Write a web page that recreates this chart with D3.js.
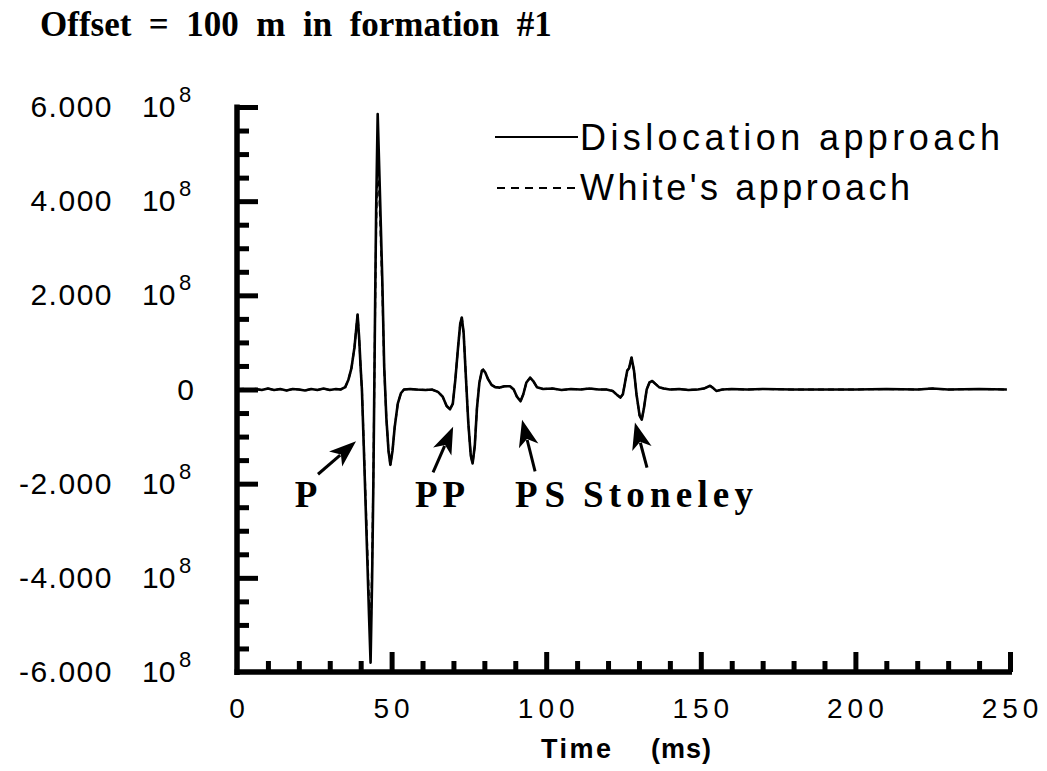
<!DOCTYPE html>
<html>
<head>
<meta charset="utf-8">
<script src="https://cdn.jsdelivr.net/npm/d3@7"></script>
<style>
  html, body { margin: 0; padding: 0; background: #fff; }
  svg { display: block; }
  .num { font-family: "Liberation Sans", Arial, Helvetica, sans-serif; fill: #000; }
  .serif { font-family: "Liberation Serif", "Times New Roman", serif; font-weight: bold; fill: #000; white-space: pre; }
</style>
</head>
<body>
<svg id="chart" width="1047" height="771"></svg>
<script>
// Time samples (ms)
const time = [
  0, 2, 4, 6, 8, 10, 12, 14, 16, 18,
  20, 22, 24, 26, 28, 30, 32, 33.5, 35, 36,
  37, 38, 39, 39.5, 40, 40.4, 41, 42, 42.7, 43.2,
  43.7, 44.1, 44.4, 44.7, 45, 45.5, 46.3, 47, 47.6, 48.3,
  49, 49.6, 50.3, 51, 52, 53, 54, 56, 58, 61,
  63, 65, 66.5, 67.8, 68.9, 69.8, 70.6, 71.5, 72.2, 72.7,
  73.3, 74, 74.8, 75.6, 76.2, 76.9, 77.6, 78.4, 79.2, 79.6,
  80.3, 81.2, 82.3, 83.5, 85, 86.5, 88.3, 89.5, 90.5, 91.7,
  92.6, 93.6, 94.8, 95.8, 97, 99, 102, 105, 108, 111,
  114, 117, 119.5, 121.5, 123, 124, 124.8, 125.5, 126.2, 126.8,
  127.6, 128.4, 129.2, 130.2, 130.9, 131.6, 132.5, 133.4, 134.3, 135.3,
  136.5, 138, 140, 143, 146, 149, 151, 153, 154, 155,
  157, 160, 165, 170, 180, 190, 200, 210, 220, 225,
  230, 240, 249
];

// Pressure, dislocation approach (units of 1e8)
const dislocation = [
  0, 0.01, -0.02, 0.01, -0.01, 0.02, -0.01, 0.01, -0.02, 0.01,
  0, -0.02, 0.01, -0.01, 0.02, -0.01, 0.01, 0, 0.05, 0.2,
  0.45, 0.9, 1.59, 1.1, 0.45, 0, -1.2, -3.3, -4.8, -5.8,
  -4.0, -2.0, 0, 2.0, 3.8, 5.85, 4.0, 2.3, 0.5, -0.6,
  -1.3, -1.6, -1.3, -0.8, -0.3, -0.08, 0, 0.01, 0, -0.01,
  0, -0.05, -0.15, -0.35, -0.42, -0.3, 0.2, 0.9, 1.4, 1.53,
  1.2, 0.3, -0.7, -1.4, -1.57, -1.2, -0.4, 0.15, 0.4, 0.42,
  0.36, 0.22, 0.1, 0.05, 0.04, 0.07, 0.07, 0, -0.15, -0.25,
  -0.1, 0.15, 0.25, 0.18, 0.05, 0.01, 0.02, -0.01, 0.01, 0,
  0.02, 0, 0, -0.03, -0.12, -0.17, -0.1, 0.15, 0.4, 0.45,
  0.68, 0.4, -0.1, -0.55, -0.64, -0.4, 0, 0.15, 0.18, 0.12,
  0.05, 0.02, 0, 0.01, -0.01, 0, 0.02, 0.08, 0.03, -0.03,
  0, 0.01, 0, 0.01, 0, 0, 0, 0.01, 0, 0.02,
  0, 0.01, 0
];

// Pressure, White's approach (units of 1e8)
const whites = [
  0, 0.01, -0.02, 0.01, -0.01, 0.02, -0.01, 0.01, -0.02, 0.01,
  0, -0.02, 0.01, -0.01, 0.02, -0.01, 0.01, 0, 0.05, 0.2,
  0.45, 0.9, 1.59, 1.1, 0.45, 0, -1.15, -3.1, -4.5, -5.3,
  -3.7, -1.8, 0, 1.8, 3.4, 5.1, 3.6, 2.1, 0.45, -0.6,
  -1.3, -1.6, -1.3, -0.8, -0.3, -0.08, 0, 0.01, 0, -0.01,
  0, -0.05, -0.15, -0.35, -0.42, -0.3, 0.2, 0.9, 1.4, 1.53,
  1.2, 0.3, -0.7, -1.4, -1.57, -1.2, -0.4, 0.15, 0.4, 0.42,
  0.36, 0.22, 0.1, 0.05, 0.04, 0.07, 0.07, 0, -0.15, -0.25,
  -0.1, 0.15, 0.25, 0.18, 0.05, 0.01, 0.02, -0.01, 0.01, 0,
  0.02, 0, 0, -0.03, -0.12, -0.17, -0.1, 0.15, 0.4, 0.45,
  0.68, 0.4, -0.1, -0.55, -0.64, -0.4, 0, 0.15, 0.18, 0.12,
  0.05, 0.02, 0, 0.01, -0.01, 0, 0.02, 0.08, 0.03, -0.03,
  0, 0.01, 0, 0.01, 0, 0, 0, 0.01, 0, 0.02,
  0, 0.01, 0
];

const scaleExp = 8;
const yMajor = [-6, -4, -2, 0, 2, 4, 6];
const yMajorLabels = ["-6.000", "-4.000", "-2.000", "0", "2.000", "4.000", "6.000"];
const xMajor = [0, 50, 100, 150, 200, 250];
const xMajorLabels = ["0", "50", "100", "150", "200", "250"];

// Wave arrivals: arrow tip/tail in data units, label centre x in pixels
const arrivalNames = ["P", "PP", "PS", "Stoneley"];
const arrowTip = [[38.5, -1.1], [69.9, -0.79], [92.2, -0.64], [128.7, -0.70]];
const arrowTail = [[26.2, -1.8], [63.4, -1.76], [96.4, -1.74], [132.6, -1.66]];
const labelCenters = [306, 440, 540, 668];
const labelWidths = [21, 50, 50, 170];

const svg = d3.select("#chart");
const x = d3.scaleLinear().domain([0, 250]).range([237, 1010]);
const y = d3.scaleLinear().domain([-6, 6]).range([672, 107]);

// Title
svg.append("text").attr("class", "serif")
  .attr("x", 40).attr("y", 36)
  .attr("font-size", 35)
  .text("Offset  =  100  m  in  formation  #1");

// Axes: inward ticks, major and minor
function styleAxis(g, w) {
  g.selectAll("text").remove();
  g.selectAll(".tick line").attr("stroke", "#000").attr("stroke-width", w);
  g.select(".domain").remove();
}
const yMinorVals = d3.range(-6, 6.01, 0.5).filter(v => Math.abs(v % 2) > 1e-9);
svg.append("g").attr("transform", `translate(${x(0)},0)`)
  .call(d3.axisLeft(y).tickValues(yMinorVals).tickSizeInner(-12).tickSizeOuter(0))
  .call(g => styleAxis(g, 5));
svg.append("g").attr("transform", `translate(${x(0)},0)`)
  .call(d3.axisLeft(y).tickValues(yMajor.filter(v => v > -6)).tickSizeInner(-21).tickSizeOuter(0))
  .call(g => styleAxis(g, 5));

const xMinorVals = d3.range(10, 250, 10).filter(v => v % 50 !== 0);
svg.append("g").attr("transform", `translate(0,${y(-6)})`)
  .call(d3.axisBottom(x).tickValues(xMinorVals).tickSizeInner(-11).tickSizeOuter(0))
  .call(g => styleAxis(g, 5));
svg.append("g").attr("transform", `translate(0,${y(-6)})`)
  .call(d3.axisBottom(x).tickValues(xMajor.filter(v => v > 0)).tickSizeInner(-20).tickSizeOuter(0))
  .call(g => styleAxis(g, 5));

// Axis lines
svg.append("line").attr("x1", x(0)).attr("x2", x(0))
  .attr("y1", y(6) - 2.5).attr("y2", y(-6) + 3)
  .attr("stroke", "#000").attr("stroke-width", 5.5);
svg.append("line").attr("x1", x(0) - 2.5).attr("x2", x(250) + 2)
  .attr("y1", y(-6)).attr("y2", y(-6))
  .attr("stroke", "#000").attr("stroke-width", 5.5);

// Y tick labels in "mantissa 10^exp" form
yMajor.forEach((v, i) => {
  const yy = y(v) + 10;
  if (v === 0) {
    svg.append("text").attr("class", "num").attr("font-size", 30)
      .attr("x", 194).attr("y", yy).attr("text-anchor", "end").text(yMajorLabels[i]);
    return;
  }
  svg.append("text").attr("class", "num").attr("font-size", 30)
    .attr("x", 113).attr("y", yy).attr("text-anchor", "end")
    .attr("letter-spacing", 1.5).text(yMajorLabels[i]);
  svg.append("text").attr("class", "num").attr("font-size", 30)
    .attr("x", 142).attr("y", yy).text("10");
  svg.append("text").attr("class", "num").attr("font-size", 22)
    .attr("x", 179).attr("y", yy - 15).text(scaleExp);
});

// X tick labels
xMajor.forEach((v, i) => {
  svg.append("text").attr("class", "num").attr("font-size", 28)
    .attr("x", x(v) + 2.5).attr("y", 718).attr("text-anchor", "middle")
    .attr("letter-spacing", 5).text(xMajorLabels[i]);
});

// X axis title
svg.append("text").attr("class", "num").attr("font-size", 27).attr("font-weight", "bold")
  .attr("x", 541).attr("y", 758).attr("textLength", 70).attr("lengthAdjust", "spacing").text("Time");
svg.append("text").attr("class", "num").attr("font-size", 27).attr("font-weight", "bold")
  .attr("x", 651).attr("y", 758).attr("textLength", 60).attr("lengthAdjust", "spacing").text("(ms)");

// Traces
const line = d3.line().x(d => x(d[0])).y(d => y(d[1]));
const whiteData = time.map((t, i) => [t, whites[i]]);
const dislData = time.map((t, i) => [t, dislocation[i]]);
svg.append("path").datum(dislData).attr("d", line)
  .attr("fill", "none").attr("stroke", "#000").attr("stroke-width", 2.6)
  .attr("stroke-linejoin", "round");
svg.append("path").datum(whiteData).attr("d", line)
  .attr("fill", "none").attr("stroke", "#000").attr("stroke-width", 2)
  .attr("stroke-dasharray", "6,4");

// Legend
svg.append("line").attr("x1", 495).attr("x2", 578).attr("y1", 137).attr("y2", 137)
  .attr("stroke", "#000").attr("stroke-width", 2);
svg.append("text").attr("class", "num").attr("font-size", 36)
  .attr("x", 580).attr("y", 150).attr("textLength", 420).attr("lengthAdjust", "spacing")
  .text("Dislocation  approach");
svg.append("line").attr("x1", 497).attr("x2", 578).attr("y1", 188).attr("y2", 188)
  .attr("stroke", "#000").attr("stroke-width", 2).attr("stroke-dasharray", "8,6");
svg.append("text").attr("class", "num").attr("font-size", 36)
  .attr("x", 580).attr("y", 200).attr("textLength", 330).attr("lengthAdjust", "spacing")
  .text("White's  approach");

// Arrival annotations
arrivalNames.forEach((name, i) => {
  const tipX = x(arrowTip[i][0]), tipY = y(arrowTip[i][1]);
  const tailX = x(arrowTail[i][0]), tailY = y(arrowTail[i][1]);
  const ang = Math.atan2(tipY - tailY, tipX - tailX);
  const len = 27, half = 10;
  const bx = tipX - len * Math.cos(ang), by = tipY - len * Math.sin(ang);
  svg.append("line").attr("x1", tailX).attr("y1", tailY)
    .attr("x2", bx + 6 * Math.cos(ang)).attr("y2", by + 6 * Math.sin(ang))
    .attr("stroke", "#000").attr("stroke-width", 3);
  const p1 = [bx + half * Math.sin(ang), by - half * Math.cos(ang)];
  const p2 = [bx - half * Math.sin(ang), by + half * Math.cos(ang)];
  svg.append("path")
    .attr("d", `M${tipX},${tipY}L${p1[0]},${p1[1]}L${bx + 7 * Math.cos(ang)},${by + 7 * Math.sin(ang)}L${p2[0]},${p2[1]}Z`)
    .attr("fill", "#000");
  const lbl = svg.append("text").attr("class", "serif").attr("font-size", 37)
    .attr("x", labelCenters[i]).attr("y", 507).attr("text-anchor", "middle").text(name);
  if (name.length > 1) lbl.attr("textLength", labelWidths[i]).attr("lengthAdjust", "spacing");
});
</script>
</body>
</html>
